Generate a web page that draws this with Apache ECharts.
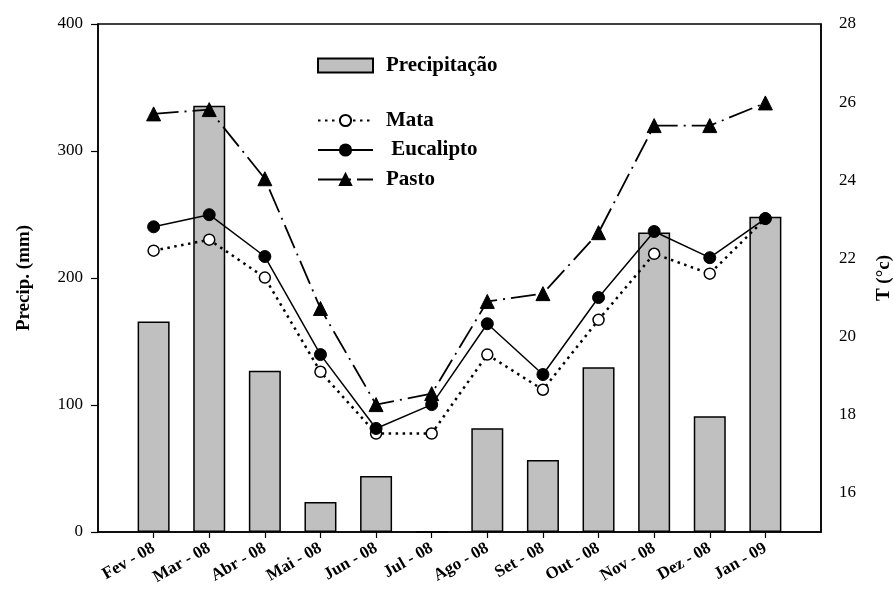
<!DOCTYPE html>
<html><head><meta charset="utf-8">
<script src="https://cdn.jsdelivr.net/npm/echarts@6/dist/echarts.min.js"></script>
<style>html,body{margin:0;padding:0;background:#fff}#c{width:894px;height:594px}</style>
</head><body><div id="c"></div>
<script>
const categories = ['Fev - 08','Mar - 08','Abr - 08','Mai - 08','Jun - 08','Jul - 08','Ago - 08','Set - 08','Out - 08','Nov - 08','Dez - 08','Jan - 09'];
const precip    = [165.8, 335.6, 127.0, 23.6, 44.0, 0, 81.7, 56.6, 129.7, 235.8, 91.2, 248.3];
const mata      = [22.20, 22.48, 21.51, 19.10, 17.52, 17.52, 19.54, 18.64, 20.43, 22.12, 21.61, 23.02];
const eucalipto = [22.81, 23.12, 22.05, 19.54, 17.65, 18.26, 20.33, 19.03, 21.00, 22.69, 22.02, 23.02];
const pasto     = [25.70, 25.81, 24.04, 20.72, 18.26, 18.54, 20.90, 21.10, 22.66, 25.40, 25.40, 25.98];
const leftTicks  = [0, 100, 200, 300, 400];
const rightTicks = [16, 18, 20, 22, 24, 26, 28];

const FONT = 'Liberation Serif';
const pos = categories.map((c, i) => i + 1);
const pair = arr => arr.map((v, i) => [pos[i], v]);

const legendText = {fontFamily: FONT, fontSize: 21, fontWeight: 'bold', color: '#000', lineHeight: 20, padding: [0, 0, 0, 8]};

const chart = echarts.init(document.getElementById('c'), null, {renderer: 'canvas'});
chart.setOption({
  animation: false,
  backgroundColor: '#fff',
  grid: {left: 98, right: 73, top: 24, bottom: 62, outerBoundsMode: 'none', containLabel: false,
         show: true, borderColor: '#000', borderWidth: 1.5, backgroundColor: 'transparent'},
  legend: [
    {data: [{name: 'Precipitação', icon: 'rect'}], left: 317, top: 55, padding: 0, itemWidth: 55, itemHeight: 14,
     textStyle: legendText},
    {data: ['Mata', 'Eucalipto', 'Pasto'], orient: 'vertical', left: 317, top: 110, padding: 0, itemWidth: 55, itemHeight: 14, itemGap: 8.5,
     formatter: n => n === 'Eucalipto' ? ' Eucalipto' : n,
     textStyle: legendText}
  ],
  xAxis: {
    type: 'value', min: 0, max: 13, interval: 1,
    splitLine: {show: false},
    axisLine: {lineStyle: {color: '#000', width: 1.5}},
    axisTick: {customValues: pos, length: 6, lineStyle: {color: '#000', width: 1.2}},
    axisLabel: {customValues: pos, rotate: 30, margin: 15, fontFamily: FONT, fontSize: 17, fontWeight: 'bold', color: '#000',
      formatter: v => categories[Math.round(v) - 1] || ''}
  },
  yAxis: [
    {type: 'value', min: 0, max: 400, interval: 100, position: 'left',
     name: 'Precip. (mm)', nameLocation: 'middle', nameGap: 64, nameRotate: 90,
     nameTextStyle: {fontFamily: FONT, fontSize: 19, fontWeight: 'bold', color: '#000'},
     splitLine: {show: false},
     axisLine: {show: true, lineStyle: {color: '#000', width: 1.5}},
     axisTick: {show: true, length: 7, lineStyle: {color: '#000', width: 1.2}},
     axisLabel: {customValues: leftTicks, margin: 15, fontFamily: FONT, fontSize: 17, color: '#000'}},
    {type: 'value', min: 15, max: 28, interval: 1, position: 'right',
     name: 'T (°c)', nameLocation: 'middle', nameGap: 54, nameRotate: 90,
     nameTextStyle: {fontFamily: FONT, fontSize: 19, fontWeight: 'bold', color: '#000'},
     splitLine: {show: false},
     axisLine: {show: true, lineStyle: {color: '#000', width: 1.5}},
     axisTick: {show: false},
     axisLabel: {customValues: rightTicks, margin: 18, fontFamily: FONT, fontSize: 17, color: '#000'}}
  ],
  series: [
    {name: 'Precipitação', type: 'bar', yAxisIndex: 0, barWidth: 32, data: pair(precip),
     itemStyle: {color: '#c0c0c0', borderColor: '#000', borderWidth: 1.5}, z: 1},
    {name: 'Mata', type: 'line', yAxisIndex: 1, data: pair(mata), symbol: 'circle', symbolSize: 11,
     lineStyle: {color: '#000', width: 2.5, type: [2.5, 4.5]},
     itemStyle: {color: '#fff', borderColor: '#000', borderWidth: 1.5}, z: 3},
    {name: 'Eucalipto', type: 'line', yAxisIndex: 1, data: pair(eucalipto), symbol: 'circle', symbolSize: 12,
     lineStyle: {color: '#000', width: 1.5, type: 'solid'},
     itemStyle: {color: '#000', borderColor: '#000', borderWidth: 1}, z: 4},
    {name: 'Pasto', type: 'line', yAxisIndex: 1, data: pair(pasto), symbol: 'triangle', symbolSize: 14,
     lineStyle: {color: '#000', width: 1.8, type: [25, 6, 2, 6]},
     itemStyle: {color: '#000', borderColor: '#000', borderWidth: 1}, z: 5}
  ]
});
</script>
</body></html>
